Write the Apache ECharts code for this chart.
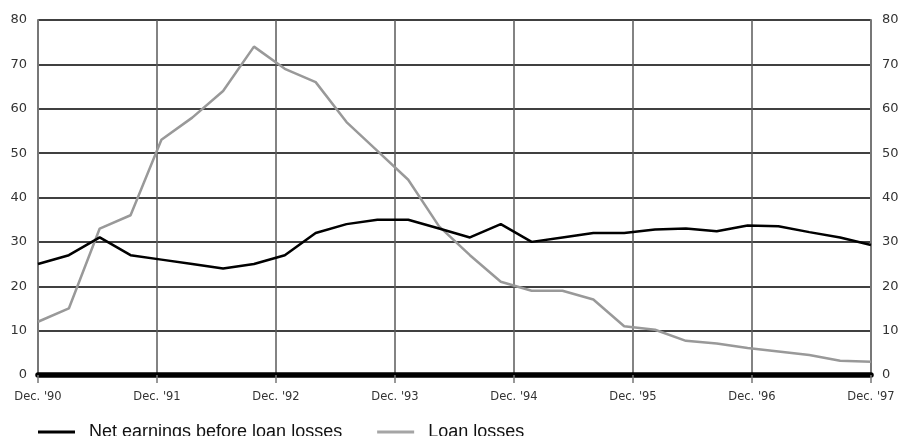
<!DOCTYPE html>
<html>
<head>
<meta charset="utf-8">
<script src="https://cdn.jsdelivr.net/npm/echarts@6/dist/echarts.min.js"></script>
<style>
  html, body { margin: 0; padding: 0; background: #fff; }
  #chart { width: 906px; height: 436px; }
</style>
</head>
<body>
<div id="chart"></div>
<script>
// Reporting periods (evenly spaced observations)
const periods = [
  "Q4 '90", "Q1 '91", "Q2 '91", "Q3 '91", "Q4 '91", "Q1 '92", "Q2 '92",
  "Q3 '92", "Q4 '92", "Q1 '93", "Q2 '93", "Q3 '93", "Q4 '93", "Q1 '94",
  "Q2 '94", "Q3 '94", "Q4 '94", "Q1 '95", "Q2 '95", "Q3 '95", "Q4 '95",
  "Q1 '96", "Q2 '96", "Q3 '96", "Q4 '96", "Q1 '97", "Q2 '97", "Q3 '97"
];

const netEarnings = [
  25, 27, 31, 27, 26, 25, 24, 25, 27, 32, 34, 35, 35, 33,
  31, 34, 30, 31, 32, 32, 32.8, 33, 32.4, 33.7, 33.5, 32.2, 31, 29.3
];

const loanLosses = [
  12, 15, 33, 36, 53, 58, 64, 74, 69, 66, 57, 50.5, 44, 33.5,
  27, 21, 19, 19, 17, 11, 10.2, 7.7, 7.1, 6.1, 5.3, 4.5, 3.2, 3.0
];

// Year ticks along the bottom axis
const yearLabels = ["Dec. '90", "Dec. '91", "Dec. '92", "Dec. '93", "Dec. '94", "Dec. '95", "Dec. '96", "Dec. '97"];

const seriesNames = ["Net earnings before loan losses", "Loan losses"];

const chart = echarts.init(document.getElementById('chart'), null, { renderer: 'canvas' });

const yAxisCommon = {
  type: 'value',
  min: 0,
  max: 80,
  interval: 10,
  axisLine: { show: true, lineStyle: { color: '#777', width: 2 } },
  axisTick: { show: false },
  axisLabel: { color: '#333', fontSize: 13, fontFamily: 'DejaVu Sans', margin: 11 },
};

chart.setOption({
  animation: false,
  backgroundColor: '#fff',
  grid: { left: 38, right: 35, top: 20, bottom: 61, containLabel: false },
  legend: {
    left: 33,
    top: 418,
    itemWidth: 37,
    itemHeight: 3,
    itemGap: 35,
    icon: 'rect',
    textStyle: { fontSize: 18, color: '#111', fontFamily: 'Liberation Sans', padding: [0, 0, 0, 9] },
    data: seriesNames
  },
  xAxis: [
    {
      type: 'category',
      data: periods,
      boundaryGap: false,
      show: false
    },
    {
      type: 'value',
      position: 'bottom',
      min: 0,
      max: yearLabels.length - 1,
      interval: 1,
      axisLine: { show: true, onZero: false, lineStyle: { color: '#000', width: 5.5 } },
      axisTick: { show: true, length: 8, lineStyle: { color: '#777', width: 1.5 } },
      axisLabel: {
        color: '#333', fontSize: 11.5, fontFamily: 'DejaVu Sans', margin: 16,
        formatter: v => yearLabels[Math.round(v)]
      },
      splitLine: { show: true, lineStyle: { color: '#5a5a5a', width: 1.5 } }
    }
  ],
  yAxis: [
    Object.assign({}, yAxisCommon, {
      position: 'left',
      splitLine: { show: true, lineStyle: { color: '#000', width: 1.5 } }
    }),
    Object.assign({}, yAxisCommon, {
      position: 'right',
      splitLine: { show: false }
    })
  ],
  series: [
    {
      name: seriesNames[1],
      type: 'line',
      xAxisIndex: 0,
      yAxisIndex: 0,
      data: loanLosses,
      symbol: 'none',
      lineStyle: { color: '#999', width: 2.5 },
      itemStyle: { color: '#a5a5a5' },
      z: 3
    },
    {
      name: seriesNames[0],
      type: 'line',
      xAxisIndex: 0,
      yAxisIndex: 0,
      data: netEarnings,
      symbol: 'none',
      lineStyle: { color: '#000', width: 2.5 },
      itemStyle: { color: '#000' },
      z: 4
    }
  ]
});
</script>
</body>
</html>
